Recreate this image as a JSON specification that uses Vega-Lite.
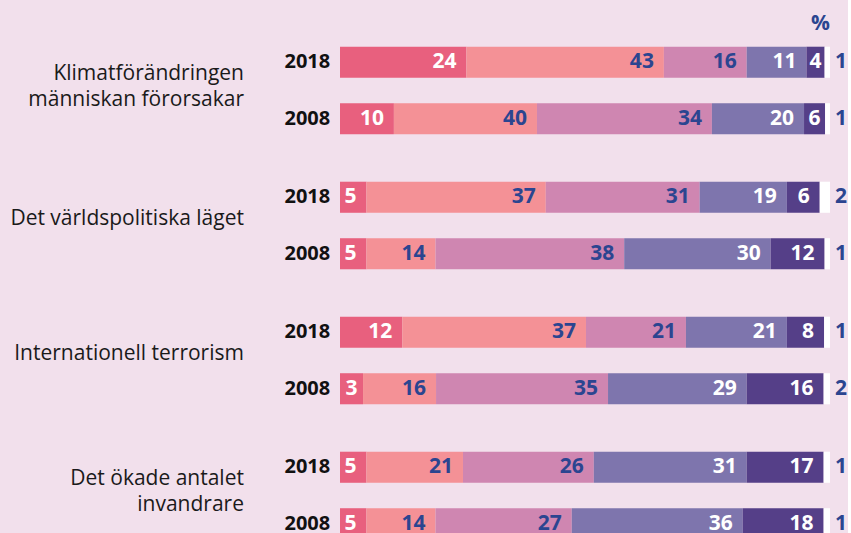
{
  "$schema": "https://vega.github.io/schema/vega-lite/v6.json",
  "background": "#f2e0ec",
  "padding": {"left": 10, "top": 12, "right": 0, "bottom": 0},
  "data": {"values": [
    {"topic": "Klimatförändringen|människan förorsakar", "year": "2018", "cat": "1", "share": 25.8, "label": 24},
    {"topic": "Klimatförändringen|människan förorsakar", "year": "2018", "cat": "2", "share": 40.3, "label": 43},
    {"topic": "Klimatförändringen|människan förorsakar", "year": "2018", "cat": "3", "share": 16.9, "label": 16},
    {"topic": "Klimatförändringen|människan förorsakar", "year": "2018", "cat": "4", "share": 12.2, "label": 11},
    {"topic": "Klimatförändringen|människan förorsakar", "year": "2018", "cat": "5", "share": 3.7, "label": 4},
    {"topic": "Klimatförändringen|människan förorsakar", "year": "2018", "cat": "6", "share": 1.1, "label": 1},
    {"topic": "Klimatförändringen|människan förorsakar", "year": "2008", "cat": "1", "share": 11.0, "label": 10},
    {"topic": "Klimatförändringen|människan förorsakar", "year": "2008", "cat": "2", "share": 29.2, "label": 40},
    {"topic": "Klimatförändringen|människan förorsakar", "year": "2008", "cat": "3", "share": 35.7, "label": 34},
    {"topic": "Klimatförändringen|människan förorsakar", "year": "2008", "cat": "4", "share": 18.8, "label": 20},
    {"topic": "Klimatförändringen|människan förorsakar", "year": "2008", "cat": "5", "share": 4.3, "label": 6},
    {"topic": "Klimatförändringen|människan förorsakar", "year": "2008", "cat": "6", "share": 1.0, "label": 1},
    {"topic": "Det världspolitiska läget", "year": "2018", "cat": "1", "share": 5.4, "label": 5},
    {"topic": "Det världspolitiska läget", "year": "2018", "cat": "2", "share": 36.6, "label": 37},
    {"topic": "Det världspolitiska läget", "year": "2018", "cat": "3", "share": 31.4, "label": 31},
    {"topic": "Det världspolitiska läget", "year": "2018", "cat": "4", "share": 17.8, "label": 19},
    {"topic": "Det världspolitiska läget", "year": "2018", "cat": "5", "share": 6.7, "label": 6},
    {"topic": "Det världspolitiska läget", "year": "2018", "cat": "6", "share": 2.1, "label": 2},
    {"topic": "Det världspolitiska läget", "year": "2008", "cat": "1", "share": 5.4, "label": 5},
    {"topic": "Det världspolitiska läget", "year": "2008", "cat": "2", "share": 14.1, "label": 14},
    {"topic": "Det världspolitiska läget", "year": "2008", "cat": "3", "share": 38.5, "label": 38},
    {"topic": "Det världspolitiska läget", "year": "2008", "cat": "4", "share": 29.9, "label": 30},
    {"topic": "Det världspolitiska läget", "year": "2008", "cat": "5", "share": 11.0, "label": 12},
    {"topic": "Det världspolitiska läget", "year": "2008", "cat": "6", "share": 1.1, "label": 1},
    {"topic": "Internationell terrorism", "year": "2018", "cat": "1", "share": 12.7, "label": 12},
    {"topic": "Internationell terrorism", "year": "2018", "cat": "2", "share": 37.5, "label": 37},
    {"topic": "Internationell terrorism", "year": "2018", "cat": "3", "share": 20.4, "label": 21},
    {"topic": "Internationell terrorism", "year": "2018", "cat": "4", "share": 20.6, "label": 21},
    {"topic": "Internationell terrorism", "year": "2018", "cat": "5", "share": 7.6, "label": 8},
    {"topic": "Internationell terrorism", "year": "2018", "cat": "6", "share": 1.2, "label": 1},
    {"topic": "Internationell terrorism", "year": "2008", "cat": "1", "share": 4.7, "label": 3},
    {"topic": "Internationell terrorism", "year": "2008", "cat": "2", "share": 14.9, "label": 16},
    {"topic": "Internationell terrorism", "year": "2008", "cat": "3", "share": 35.1, "label": 35},
    {"topic": "Internationell terrorism", "year": "2008", "cat": "4", "share": 28.3, "label": 29},
    {"topic": "Internationell terrorism", "year": "2008", "cat": "5", "share": 15.7, "label": 16},
    {"topic": "Internationell terrorism", "year": "2008", "cat": "6", "share": 1.3, "label": 2},
    {"topic": "Det ökade antalet|invandrare", "year": "2018", "cat": "1", "share": 5.4, "label": 5},
    {"topic": "Det ökade antalet|invandrare", "year": "2018", "cat": "2", "share": 19.7, "label": 21},
    {"topic": "Det ökade antalet|invandrare", "year": "2018", "cat": "3", "share": 26.7, "label": 26},
    {"topic": "Det ökade antalet|invandrare", "year": "2018", "cat": "4", "share": 31.2, "label": 31},
    {"topic": "Det ökade antalet|invandrare", "year": "2018", "cat": "5", "share": 15.7, "label": 17},
    {"topic": "Det ökade antalet|invandrare", "year": "2018", "cat": "6", "share": 1.3, "label": 1},
    {"topic": "Det ökade antalet|invandrare", "year": "2008", "cat": "1", "share": 5.4, "label": 5},
    {"topic": "Det ökade antalet|invandrare", "year": "2008", "cat": "2", "share": 14.1, "label": 14},
    {"topic": "Det ökade antalet|invandrare", "year": "2008", "cat": "3", "share": 27.8, "label": 27},
    {"topic": "Det ökade antalet|invandrare", "year": "2008", "cat": "4", "share": 34.9, "label": 36},
    {"topic": "Det ökade antalet|invandrare", "year": "2008", "cat": "5", "share": 16.5, "label": 18},
    {"topic": "Det ökade antalet|invandrare", "year": "2008", "cat": "6", "share": 1.3, "label": 1}
  ]},
  "transform": [
    {"stack": "share", "groupby": ["topic", "year"], "sort": [{"field": "cat", "order": "ascending"}], "as": ["x0", "x1"]}
  ],
  "facet": {
    "row": {
      "field": "topic", "type": "nominal", "title": null,
      "sort": ["Klimatförändringen|människan förorsakar", "Det världspolitiska läget", "Internationell terrorism", "Det ökade antalet|invandrare"],
      "header": {"labels": false, "title": null}
    }
  },
  "spacing": 22,
  "spec": {
    "width": 490,
    "height": 113,
    "layer": [
      {
        "mark": {"type": "bar"},
        "encoding": {
          "y": {
            "field": "year", "type": "nominal", "sort": ["2018", "2008"],
            "scale": {"paddingInner": 0.45, "paddingOuter": 0.225},
            "axis": null
          },
          "x": {"field": "x0", "type": "quantitative", "scale": {"domain": [0, 100], "nice": false}, "axis": null},
          "x2": {"field": "x1"},
          "color": {"field": "cat", "type": "nominal",
                    "scale": {"domain": ["1", "2", "3", "4", "5", "6"], "range": ["#e8607e", "#f49196", "#cf86b1", "#7e75ad", "#553f88", "#ffffff"]},
                    "legend": null}
        }
      },
      {
        "transform": [{"filter": "datum.cat != '6' && datum.share >= 5"}],
        "mark": {"type": "text", "align": "right", "baseline": "middle", "dx": -10, "font": "Open Sans", "fontSize": 21, "fontWeight": "bold"},
        "encoding": {
          "y": {"field": "year", "type": "nominal", "sort": ["2018", "2008"]},
          "x": {"field": "x1", "type": "quantitative"},
          "text": {"field": "label"},
          "color": {"condition": {"test": "datum.cat == '2' || datum.cat == '3'", "value": "#2b4590"}, "value": "#ffffff"}
        }
      },
      {
        "transform": [{"filter": "datum.cat != '6' && datum.share < 5"}, {"calculate": "(datum.x0 + datum.x1) / 2", "as": "mid"}],
        "mark": {"type": "text", "align": "center", "baseline": "middle", "font": "Open Sans", "fontSize": 21, "fontWeight": "bold"},
        "encoding": {
          "y": {"field": "year", "type": "nominal", "sort": ["2018", "2008"]},
          "x": {"field": "mid", "type": "quantitative"},
          "text": {"field": "label"},
          "color": {"condition": {"test": "datum.cat == '2' || datum.cat == '3'", "value": "#2b4590"}, "value": "#ffffff"}
        }
      },
      {
        "transform": [{"filter": "datum.cat == '6'"}],
        "mark": {"type": "text", "align": "left", "baseline": "middle", "dx": 5, "font": "Open Sans", "fontSize": 21, "fontWeight": "bold", "color": "#2b4590"},
        "encoding": {
          "y": {"field": "year", "type": "nominal", "sort": ["2018", "2008"]},
          "x": {"field": "x1", "type": "quantitative"},
          "text": {"field": "label"}
        }
      },
      {
        "transform": [{"filter": "datum.cat == '6' && datum.year == '2018' && indexof(datum.topic, 'Klimat') == 0"}],
        "mark": {"type": "text", "text": "%", "align": "right", "baseline": "middle", "dy": -38.5, "font": "Open Sans", "fontSize": 21, "fontWeight": "bold", "color": "#2b4590"},
        "encoding": {
          "y": {"field": "year", "type": "nominal", "sort": ["2018", "2008"]},
          "x": {"field": "x1", "type": "quantitative"}
        }
      },
      {
        "transform": [{"filter": "datum.cat == '1'"}],
        "mark": {"type": "text", "align": "right", "baseline": "middle", "font": "Open Sans", "fontSize": 20, "fontWeight": "bold", "color": "#111111"},
        "encoding": {
          "y": {"field": "year", "type": "nominal", "sort": ["2018", "2008"]},
          "x": {"datum": -2, "type": "quantitative"},
          "text": {"field": "year"}
        }
      },
      {
        "transform": [{"filter": "datum.cat == '1' && datum.year == '2018' && indexof(datum.topic, '|') < 0"}],
        "mark": {"type": "text", "align": "right", "baseline": "middle", "dy": -7, "font": "Open Sans", "fontSize": 21, "color": "#1a1a1a"},
        "encoding": {
          "x": {"datum": -19.6, "type": "quantitative"},
          "text": {"field": "topic"}
        }
      },
      {
        "transform": [{"filter": "datum.cat == '1' && datum.year == '2018' && indexof(datum.topic, '|') >= 0"}],
        "mark": {"type": "text", "align": "right", "baseline": "middle", "lineBreak": "|", "lineHeight": 26, "dy": -17, "font": "Open Sans", "fontSize": 21, "color": "#1a1a1a"},
        "encoding": {
          "x": {"datum": -19.6, "type": "quantitative"},
          "text": {"field": "topic"}
        }
      }
    ]
  },
  "config": {"view": {"stroke": null}}
}
